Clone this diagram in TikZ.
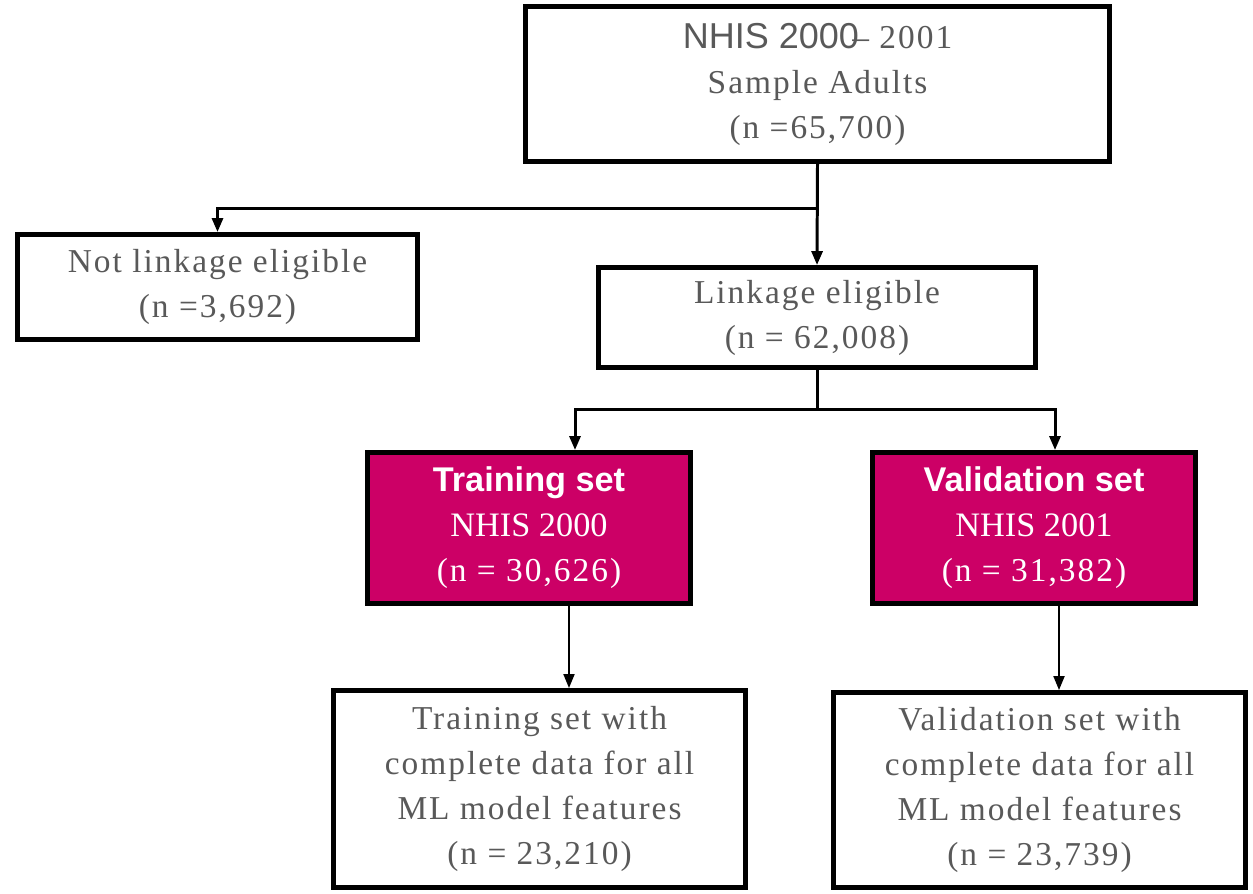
\documentclass[tikz,border=0pt]{standalone}
\usepackage{fontspec}
\setmainfont{Liberation Serif}
\setsansfont{Liberation Sans}
\newfontfamily\spacedserif{Liberation Serif}[LetterSpace=6]
\usetikzlibrary{arrows.meta, calc}
\definecolor{boxgray}{RGB}{89,89,89}
\definecolor{setmagenta}{RGB}{204,0,102}

\begin{document}
\begin{tikzpicture}[
    >={Triangle[length=0.28cm, width=0.22cm]},
    % White stage box
    stagebox/.style={rectangle, draw, line width=2.8pt, fill=white, align=center, inner sep=0pt,
        text=boxgray, font=\fontsize{19}{25.6}\selectfont\spacedserif},
    % Magenta split box (training / validation)
    splitbox/.style={stagebox, fill=setmagenta, text=white},
    % Arrow styles
    arr/.style={->, line width=1.7pt},
    thinarr/.style={->, line width=1.1pt},
]

\useasboundingbox (0,0) rectangle (25.06,-17.86);

% ============================================================
% Boxes
% ============================================================
% full sample
\node[stagebox, minimum width=11.68cm, minimum height=3.1cm] (sample) at (16.35,-1.68)
    {{\fontsize{20.5}{25.6}\selectfont\sffamily NHIS 2000}\kern-0.2em– 2001\\ Sample Adults\\ (n =65,700)};

% excluded
\node[stagebox, minimum width=8.0cm, minimum height=2.1cm] (notlink) at (4.35,-5.74)
    {Not linkage eligible\\ (n =3,692)};

% eligible
\node[stagebox, minimum width=8.74cm, minimum height=2.0cm] (link) at (16.34,-6.35)
    {Linkage eligible\\ (n = 62,008)};

% training set
\node[splitbox, minimum width=6.46cm, minimum height=3.02cm] (train) at (10.58,-10.56)
    {{\fontsize{19.5}{25.6}\selectfont\sffamily\bfseries Training set}\\
     {\fontsize{19.5}{25.6}\selectfont\rmfamily NHIS 2000}\\ (n = 30,626)};

% validation set
\node[splitbox, minimum width=6.46cm, minimum height=3.02cm] (valid) at (20.68,-10.56)
    {{\fontsize{19.5}{25.6}\selectfont\sffamily\bfseries Validation set}\\
     {\fontsize{19.5}{25.6}\selectfont\rmfamily NHIS 2001}\\ (n = 31,382)};

% complete-case training set
\node[stagebox, minimum width=8.24cm, minimum height=3.94cm] (traincomp) at (10.79,-15.78)
    {Training set with\\ complete data for all\\ ML model features\\ (n = 23,210)};

% complete-case validation set
\node[stagebox, minimum width=8.24cm, minimum height=3.9cm] (validcomp) at (20.79,-15.8)
    {Validation set with\\ complete data for all\\ ML model features\\ (n = 23,739)};

% ============================================================
% Connectors
% ============================================================
% sample -> eligible / not eligible
\coordinate (split1) at (link.north |- 0,-4.16);
\draw[arr] (sample.south) -- (link.north);
\draw[arr] (split1) -| (notlink.north);

% eligible -> training / validation
\coordinate (split2) at (link.south |- 0,-8.18);
\draw[line width=1.7pt] (link.south) -- (split2);
\draw[arr] (split2) -| ([xshift=0.92cm]train.north);
\draw[arr] (split2) -| ([xshift=0.42cm]valid.north);

% split sets -> complete cases
\draw[thinarr] ([xshift=0.8cm]train.south) -- ([xshift=0.8cm]train.south |- traincomp.north);
\draw[thinarr] ([xshift=0.5cm]valid.south) -- ([xshift=0.5cm]valid.south |- validcomp.north);

\end{tikzpicture}
\end{document}
